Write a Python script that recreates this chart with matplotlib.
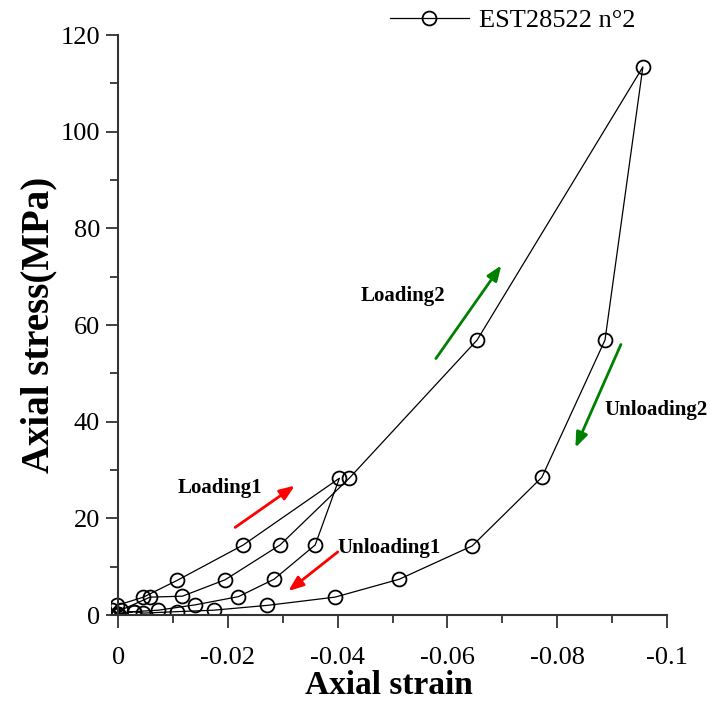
import matplotlib.pyplot as plt
from matplotlib.ticker import MultipleLocator, FuncFormatter

# loading 1, unloading 1, reloading up to the peak, unloading 2
strain = [0.0000, 0.0012, 0.0002, -0.0046, -0.0108, -0.0228, -0.0403,
          -0.0359, -0.0284, -0.0219, -0.0140, -0.0073, -0.0028, 0.0000,
          -0.0005, -0.0058, -0.0117, -0.0195, -0.0295, -0.0421, -0.0654, -0.0956,
          -0.0887, -0.0772, -0.0645, -0.0512, -0.0395, -0.0272, -0.0174, -0.0108,
          -0.0046, -0.0028, 0.0000]
stress = [0.0, 1.0, 2.0, 3.7, 7.2, 14.5, 28.3,
          14.5, 7.4, 3.8, 2.1, 1.0, 0.7, 0.3,
          1.0, 3.7, 3.9, 7.3, 14.5, 28.3, 56.9, 113.4,
          56.9, 28.5, 14.3, 7.4, 3.7, 2.0, 1.0, 0.7,
          0.4, 0.7, 0.2]

labels = ["Loading1", "Unloading1", "Loading2", "Unloading2"]
label_pos = [(-0.0186, 26.3), (-0.0494, 13.9), (-0.0519, 66.0), (-0.0980, 42.4)]
arrows = [((-0.0209, 17.8), (-0.0326, 27.1), "red"),
          ((-0.0404, 13.4), (-0.0306, 4.6), "red"),
          ((-0.0576, 52.6), (-0.0701, 72.8), "green"),
          ((-0.0918, 56.5), (-0.0831, 34.1), "green")]

plt.rcParams["font.family"] = ["Liberation Serif", "DejaVu Serif"]

fig = plt.figure(figsize=(7.09, 7.02), dpi=100)
ax = fig.add_axes([0.1566, 0.1239, 0.7842, 0.8262])

ax.plot(strain, stress, color="black", lw=0.9, marker="o", ms=10,
        mfc="none", mec="black", mew=1.3, label="EST28522 n°2")

for txt, (x, y) in zip(labels, label_pos):
    ax.text(x, y, txt, fontsize=15, fontweight="bold", ha="center", va="center")
for start, end, col in arrows:
    ax.annotate("", xy=end, xytext=start,
                arrowprops=dict(arrowstyle="-|>,head_length=0.9,head_width=0.35",
                                color=col, lw=2))

ax.set_xlim(0.0013, -0.1)
ax.set_ylim(0, 120)
ax.spines["left"].set_position(("data", 0))
ax.spines["top"].set_visible(False)
ax.spines["right"].set_visible(False)
for s in ("left", "bottom"):
    ax.spines[s].set_color("#333333")
    ax.spines[s].set_linewidth(1.5)

ax.xaxis.set_major_locator(MultipleLocator(0.02))
ax.xaxis.set_minor_locator(MultipleLocator(0.01))
ax.yaxis.set_major_locator(MultipleLocator(20))
ax.yaxis.set_minor_locator(MultipleLocator(10))
ax.xaxis.set_major_formatter(FuncFormatter(lambda v, p: "0" if abs(v) < 1e-9 else f"{v:g}"))
ax.tick_params(which="major", direction="out", length=9, width=1.3,
               labelsize=19, pad=14, color="#333333")
ax.tick_params(which="minor", direction="out", length=6, width=1.3, color="#333333")
ax.tick_params(axis="y", pad=4)

ax.set_xlabel("Axial strain", fontsize=24, fontweight="bold", labelpad=1)
ax.set_ylabel("Axial stress(MPa)", fontsize=28, fontweight="bold", labelpad=2)

ax.legend(loc="center left", bbox_to_anchor=(0.516, 0.9715),
          bbox_transform=fig.transFigure, frameon=False, fontsize=19,
          handlelength=3.0, handletextpad=0.4)

fig.savefig("out.png", dpi=100)
